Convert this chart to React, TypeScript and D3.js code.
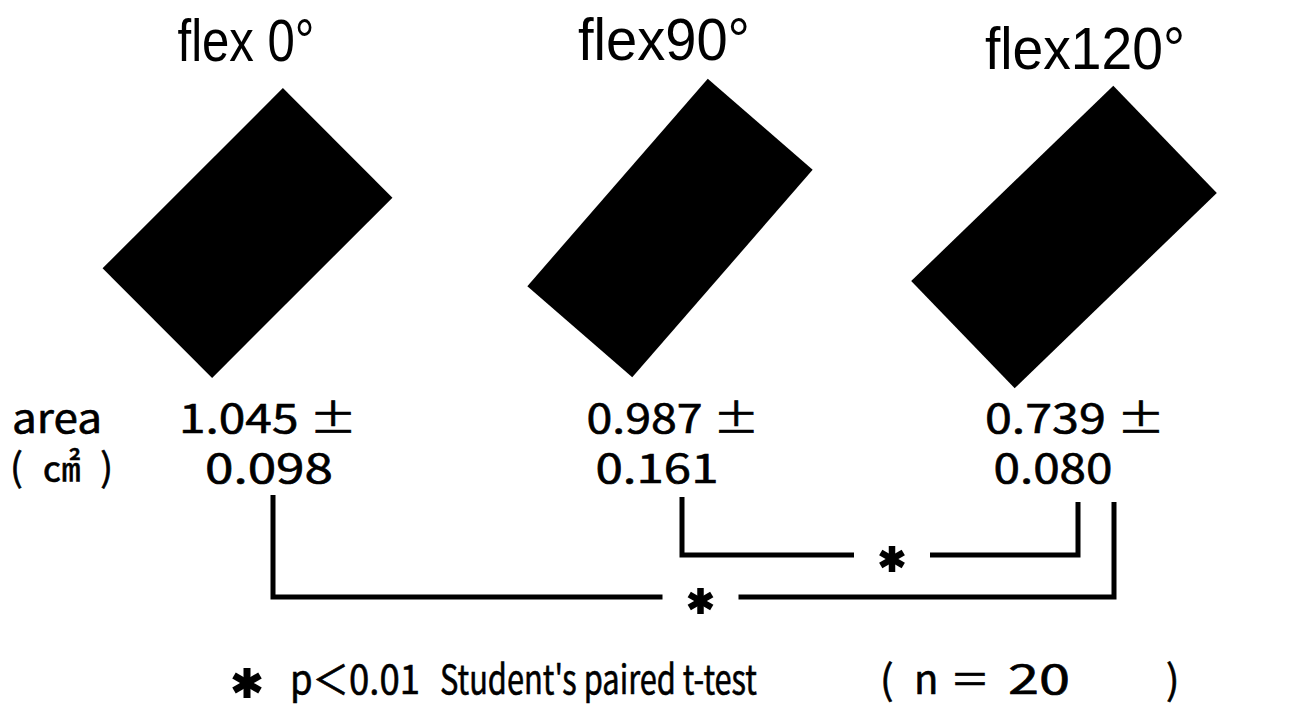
import React from "react";
import * as d3 from "d3";

// ---- data ----
const categories = ["flex 0°", "flex90°", "flex120°"];
const means = [1.045, 0.987, 0.739];
const sds = [0.098, 0.161, 0.08];
const comparisons = [
  { a: 1, b: 2, label: "*" },
  { a: 0, b: 2, label: "*" },
];
const footnotes = ["p＜0.01", "Student's paired t-test", "( n ＝ 20 )"];
const rowLabels = ["area", "( ㎠ )"];

// ---- illustration geometry (schematic cross-sections) ----
const shapeAngle = [45, 41, 46];
const shapeShort = [155, 139, 149];
const shapeLong = [255, 275, 281];

// ---- layout ----
const W = 1294;
const H = 719;
const titleDx = [-23, 3, 32];
const titleY = [61, 60, 69];
const titleW = [137, 172, 200];
const shapeDx = [-21.5, 9, 11];
const shapeCy = [233, 228, 237];
const meanDx = [-1, 12, 22];
const meanW = [178, 173, 180];
const sdDx = [0, -4, 0];
const sdW = [128, 123, 119];
const bracketLayout = [
  { y: 555, dxA: 21, dxB: 25, topA: 497, topB: 502, starDx: 12 },
  { y: 597, dxA: 4, dxB: 61, topA: 495, topB: 502, starDx: 7 },
];
const nTokenX = [880, 914, 950, 1008, 1166];

const FONT = "'Noto Sans CJK JP', 'Noto Sans', sans-serif";
const TITLE_FONT = "'Liberation Sans Narrow', 'Liberation Sans', Arial, sans-serif";

function Asterisk({ cx, cy, r = 12, w = 6 }: { cx: number; cy: number; r?: number; w?: number }) {
  const angles = [90, 30, -30];
  return (
    <g stroke="#000" strokeWidth={w} strokeLinecap="butt">
      {angles.map((a) => {
        const t = (a * Math.PI) / 180;
        return (
          <line
            key={a}
            x1={cx - r * Math.cos(t)}
            y1={cy - r * Math.sin(t)}
            x2={cx + r * Math.cos(t)}
            y2={cy + r * Math.sin(t)}
          />
        );
      })}
    </g>
  );
}

export default function App() {
  const x = d3.scalePoint<string>().domain(categories).range([269, 1053]);
  const fmt = d3.format(".3f");
  const pathGen = d3.line();
  const txt = { fontFamily: FONT, fontSize: 40, stroke: "#000", strokeWidth: 0.6 } as const;

  return (
    <svg
      width={W}
      height={H}
      viewBox={`0 0 ${W} ${H}`}
      style={{ position: "absolute", left: 0, top: 0, background: "#fff" }}
    >
      <rect width={W} height={H} fill="#fff" />
      {categories.map((c, i) => {
        const cx = x(c) as number;
        const sx = cx + shapeDx[i];
        const sy = shapeCy[i];
        return (
          <g key={c}>
            <text
              x={cx + titleDx[i]}
              y={titleY[i]}
              textAnchor="middle"
              fontFamily={TITLE_FONT}
              fontSize={60}
              textLength={titleW[i]}
              lengthAdjust="spacingAndGlyphs"
            >
              {c}
            </text>
            <rect
              x={-shapeShort[i] / 2}
              y={-shapeLong[i] / 2}
              width={shapeShort[i]}
              height={shapeLong[i]}
              fill="#000"
              transform={`translate(${sx},${sy}) rotate(${shapeAngle[i]})`}
            />
            <text
              {...txt}
              x={cx + meanDx[i]}
              y={433}
              textAnchor="middle"
              textLength={meanW[i]}
              lengthAdjust="spacingAndGlyphs"
            >
              {`${fmt(means[i])} ±`}
            </text>
            <text
              {...txt}
              x={cx + sdDx[i]}
              y={483}
              textAnchor="middle"
              textLength={sdW[i]}
              lengthAdjust="spacingAndGlyphs"
            >
              {fmt(sds[i])}
            </text>
          </g>
        );
      })}
      <text {...txt} x={12} y={433} textLength={90} lengthAdjust="spacingAndGlyphs">
        {rowLabels[0]}
      </text>
      <text {...txt} x={10} y={481} fontSize={38} textLength={103} lengthAdjust="spacing">
        {rowLabels[1]}
      </text>

      {comparisons.map((cmp, k) => {
        const L = bracketLayout[k];
        const xa = (x(categories[cmp.a]) as number) + L.dxA;
        const xb = (x(categories[cmp.b]) as number) + L.dxB;
        const mid = (xa + xb) / 2 + L.starDx;
        const gap = 38;
        const left = pathGen([
          [xa, L.topA],
          [xa, L.y],
          [mid - gap, L.y],
        ]) as string;
        const right = pathGen([
          [mid + gap, L.y],
          [xb, L.y],
          [xb, L.topB],
        ]) as string;
        return (
          <g key={k}>
            <path d={left} fill="none" stroke="#000" strokeWidth={5} strokeLinejoin="miter" />
            <path d={right} fill="none" stroke="#000" strokeWidth={5} strokeLinejoin="miter" />
            <Asterisk cx={mid} cy={L.y + 4} r={13} w={6.5} />
          </g>
        );
      })}

      <Asterisk cx={247} cy={683} r={15} w={7} />
      <text {...txt} x={290} y={694} textLength={130} lengthAdjust="spacingAndGlyphs">
        {footnotes[0]}
      </text>
      <text {...txt} x={440} y={694} textLength={317} lengthAdjust="spacingAndGlyphs">
        {footnotes[1]}
      </text>
      <text {...txt} y={694}>
        {footnotes[2].split(" ").map((tok, j) => (
          <tspan key={j} x={nTokenX[j]} textLength={j === 3 ? 62 : undefined} lengthAdjust="spacingAndGlyphs">
            {tok}
          </tspan>
        ))}
      </text>
    </svg>
  );
}
